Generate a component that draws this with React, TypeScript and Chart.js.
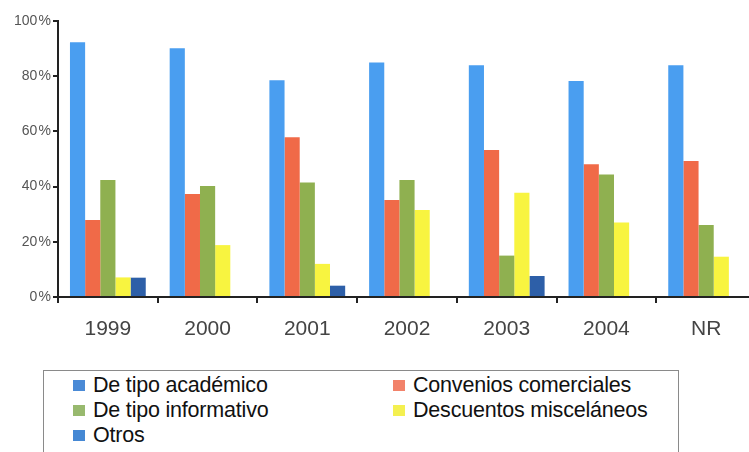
import React, { useEffect, useRef } from "react";
import { Chart, registerables } from "chart.js";
Chart.register(...registerables);

const categories = ["1999", "2000", "2001", "2002", "2003", "2004", "NR"];
const academico = [92.3, 90.1, 78.5, 85, 84, 78.3, 84];
const convenios = [27.9, 37.3, 57.9, 35.1, 53.3, 48.1, 49.3];
const informativo = [42.4, 40.2, 41.5, 42.4, 15, 44.4, 26.1];
const descuentos = [7.1, 18.8, 12, 31.5, 37.8, 27, 14.6];
const otros = [7, 0, 4.1, 0, 7.6, 0, 0];
const seriesNames = [
  "De tipo académico",
  "Convenios comerciales",
  "De tipo informativo",
  "Descuentos misceláneos",
  "Otros",
];
const seriesColors = ["#4a9ef0", "#f06a48", "#8fb050", "#f8f440", "#2d5fa8"];
const legendColors = ["#4a8ad6", "#f2826a", "#98b96e", "#f4f050", "#4588d4"];
const seriesValues = [academico, convenios, informativo, descuentos, otros];
const yMax = 100;
const yStep = 20;

export default function App() {
  const ref = useRef<HTMLCanvasElement | null>(null);
  useEffect(() => {
    if (!ref.current) return;
    const chart = new Chart(ref.current, {
      type: "bar",
      data: {
        labels: categories,
        datasets: seriesValues.map((vals, i) => ({
          label: seriesNames[i],
          data: vals,
          backgroundColor: seriesColors[i],
          borderWidth: 0,
          categoryPercentage: 0.76,
          barPercentage: 1.0,
        })),
      },
      options: {
        animation: false,
        responsive: false,
        maintainAspectRatio: false,
        layout: { padding: { top: 21, right: 2, left: 0, bottom: 0 } },
        plugins: { legend: { display: false }, tooltip: { enabled: false } },
        scales: {
          x: {
            offset: true,
            grid: {
              display: true,
              drawOnChartArea: false,
              drawTicks: true,
              tickLength: 6,
              offset: true,
              color: "#222",
              lineWidth: 2,
            },
            border: { display: true, color: "#222", width: 2 },
            ticks: {
              color: "#444",
              font: { family: "Liberation Sans, Arial, sans-serif", size: 21 },
              padding: 14,
              maxRotation: 0,
            },
            afterFit: (s: any) => {
              s.height = 53;
            },
          },
          y: {
            min: 0,
            max: yMax,
            grid: {
              display: true,
              drawOnChartArea: false,
              drawTicks: true,
              tickLength: 5,
              color: "#222",
              lineWidth: 2,
            },
            border: { display: true, color: "#222", width: 2 },
            ticks: {
              stepSize: yStep,
              color: "#555",
              font: { family: "Liberation Sans, Arial, sans-serif", size: 14 },
              padding: 2,
              callback: (v: any) => v + "\u200A%",
            },
            afterFit: (s: any) => {
              s.width = 58;
            },
          },
        },
      },
    });
    return () => chart.destroy();
  }, []);

  return (
    <div
      style={{
        position: "absolute",
        left: 0,
        top: 0,
        width: 749,
        height: 452,
        overflow: "hidden",
        background: "#fff",
        fontFamily: "Liberation Sans, Arial, sans-serif",
      }}
    >
      <canvas
        ref={ref}
        width={758}
        height={350}
        style={{ position: "absolute", left: 0, top: 0, width: 758, height: 350 }}
      />
      <div
        style={{
          position: "absolute",
          left: 43,
          top: 370,
          width: 636,
          height: 100,
          border: "1px solid #8a8a8a",
          boxSizing: "border-box",
        }}
      >
        {seriesNames.map((name, i) => {
          const col = i % 2;
          const row = Math.floor(i / 2);
          return (
            <div
              key={name}
              style={{
                position: "absolute",
                left: col === 0 ? 29 : 349,
                top: 2 + row * 25,
                height: 25,
                display: "flex",
                alignItems: "center",
                whiteSpace: "nowrap",
                fontSize: 21.5,
                letterSpacing: -0.2,
                color: "#111",
              }}
            >
              <span
                style={{
                  display: "inline-block",
                  width: 12,
                  height: 11,
                  background: legendColors[i],
                  marginRight: 8,
                }}
              />
              {name}
            </div>
          );
        })}
      </div>
    </div>
  );
}
